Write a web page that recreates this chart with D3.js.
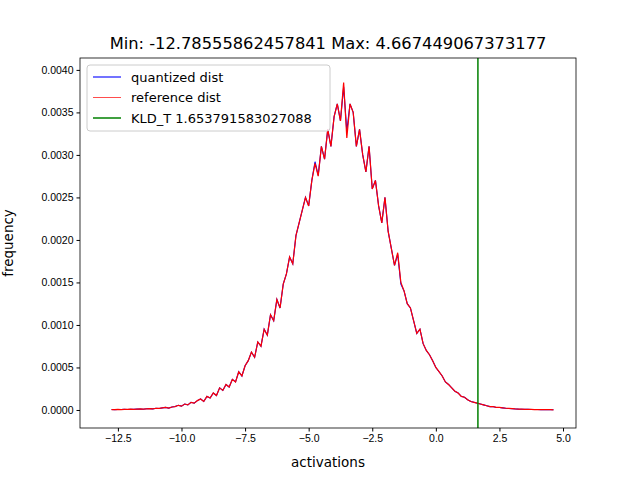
<!DOCTYPE html>
<html>
<head>
<meta charset="utf-8">
<script src="https://cdn.jsdelivr.net/npm/d3@7"></script>
<style>
  body { margin: 0; background: #fff; }
  svg { font-family: "DejaVu Sans", sans-serif; }
</style>
</head>
<body>
<svg id="chart" width="640" height="480"></svg>
<script>
// ── Data ────────────────────────────────────────────────────
const TITLE = "Min: -12.78555862457841 Max: 4.667449067373177";
const KLD_T = 1.653791583027088;

// reference histogram, bins from -12.75 in steps of 0.125
const binStart = -12.75, binStep = 0.125;
const refValues = [
  0.000005,0.000004,0.000006,0.000005, 0.000007,0.000006,0.000009,0.000008,
  0.00001,0.000012,0.000009,0.000014, 0.000016,0.000013,0.00002,0.000018,
  0.000025,0.00003,0.000022,0.000035, 0.00004,0.000055,0.000045,0.00007,
  0.00006,0.00009,0.00008,0.00011, 0.00013,0.0001,0.00016,0.00014,
  0.0002,0.00017,0.00026,0.00023, 0.0003,0.00027,0.00036,0.00033,
  0.00045,0.0004,0.00052,0.00058, 0.00068,0.00062,0.0008,0.00075,
  0.00095,0.00088,0.00112,0.00105, 0.0013,0.0012,0.00148,0.0016,
  0.0018,0.00172,0.00205,0.0022, 0.00235,0.0025,0.0024,0.0027,
  0.0029,0.00275,0.0031,0.00295, 0.0033,0.0031,0.00345,0.0036,
  0.0034,0.00385,0.0032,0.0036, 0.0035,0.0031,0.0033,0.003,
  0.0028,0.0031,0.0026,0.0027, 0.0024,0.0022,0.0025,0.0021,
  0.0019,0.0017,0.00185,0.0015, 0.0014,0.00125,0.0012,0.00105,
  0.0009,0.00095,0.00078,0.0007, 0.00065,0.00058,0.0005,0.00045,
  0.0004,0.00033,0.0003,0.00026, 0.00022,0.0002,0.00016,0.00015,
  0.00012,0.0001,0.00009,0.00008, 0.00007,0.00006,0.00005,0.00004,
  0.00004,0.00003,0.00003,0.000025, 0.00002,0.000018,0.000015,0.000012,
  0.00001,0.000009,0.000008,0.000007, 0.000006,0.000005,0.000005,0.000004,
  0.000004,0.000003,0.000003,0.000002
];

// quantized histogram, same bins (almost identical, peeks out in a few places)
const qValues = [
  0.000005,0.000004,0.000006,0.000005, 0.000007,0.000006,0.000009,0.000008,
  0.00001,0.000012,0.000009,0.000014, 0.000016,0.000013,0.00002,0.000018,
  0.000025,0.00003,0.000022,0.000035, 0.00004,0.000055,0.000045,0.00007,
  0.00006,0.00009,0.00008,0.00011, 0.00013,0.0001,0.00016,0.00014,
  0.0002,0.00017,0.00026,0.00023, 0.0003,0.00027,0.00036,0.00033,
  0.00045,0.0004,0.00052,0.00058, 0.00068,0.00062,0.0008,0.00075,
  0.00095,0.00088,0.00112,0.00105, 0.0013,0.0012,0.00148,0.0016,
  0.0018,0.00172,0.00205,0.0022, 0.00235,0.0025,0.0024,0.0027,
  0.00292,0.00276,0.0031,0.00295, 0.0033,0.0031,0.00345,0.0036,
  0.0034,0.0038,0.00328,0.0036, 0.0035,0.0031,0.0033,0.003,
  0.0028,0.0031,0.0026,0.0027, 0.0024,0.0022,0.0025,0.0021,
  0.0019,0.0017,0.00183,0.00148, 0.0014,0.00125,0.0012,0.00105,
  0.0009,0.00095,0.00078,0.0007, 0.00065,0.00058,0.0005,0.00045,
  0.0004,0.00033,0.0003,0.00026, 0.00022,0.0002,0.00016,0.00015,
  0.00012,0.0001,0.00009,0.00008, 0.00007,0.00006,0.00005,0.00004,
  0.00004,0.00003,0.00003,0.000025, 0.00002,0.000018,0.000015,0.000012,
  0.00001,0.000009,0.000008,0.000007, 0.000006,0.000005,0.000005,0.000004,
  0.000004,0.000003,0.000003,0.000002
];

const xTicks = [-12.5, -10, -7.5, -5, -2.5, 0, 2.5, 5];
const yTicks = [0, 0.0005, 0.001, 0.0015, 0.002, 0.0025, 0.003, 0.0035, 0.004];

// ── Layout ───────────────────────────────────────────────────
const M = { left: 80, top: 58, right: 576, bottom: 428 };
const svg = d3.select("#chart");

const x = d3.scaleLinear().domain([-13.99, 5.51]).range([M.left, M.right]);
const y = d3.scaleLinear().domain([-0.000212, 0.00414]).range([M.bottom, M.top]);

const minus = s => s.replace("-", "\u2212");

// axes
svg.append("g").attr("transform", `translate(0,${M.bottom})`)
  .call(d3.axisBottom(x).tickValues(xTicks).tickSize(3.5).tickPadding(3)
    .tickFormat(d => minus(d3.format(".1f")(d))))
  .call(g => g.select(".domain").remove());

svg.append("g").attr("transform", `translate(${M.left},0)`)
  .call(d3.axisLeft(y).tickValues(yTicks).tickSize(3.5).tickPadding(3)
    .tickFormat(d => d3.format(".4f")(d)))
  .call(g => g.select(".domain").remove());

svg.selectAll(".tick line").attr("stroke", "#000");
svg.selectAll(".tick text").attr("font-size", "10.5px").attr("fill", "#000");

// lines
const toPoints = vals => vals.map((v, i) => [binStart + i * binStep, v]);
const line = d3.line().x(d => x(d[0])).y(d => y(d[1]));

svg.append("path").datum(toPoints(qValues)).attr("d", line)
  .attr("fill", "none").attr("stroke", "#0000ff").attr("stroke-width", 1.1);
svg.append("path").datum(toPoints(refValues)).attr("d", line)
  .attr("fill", "none").attr("stroke", "#ff0000").attr("stroke-width", 1.2);

svg.append("line")
  .attr("x1", x(KLD_T)).attr("x2", x(KLD_T))
  .attr("y1", M.top).attr("y2", M.bottom)
  .attr("stroke", "#008000").attr("stroke-width", 1.5);

// frame
svg.append("rect").attr("x", M.left).attr("y", M.top)
  .attr("width", M.right - M.left).attr("height", M.bottom - M.top)
  .attr("fill", "none").attr("stroke", "#000").attr("stroke-width", 0.8);

// title and axis labels
svg.append("text").attr("x", (M.left + M.right) / 2).attr("y", 49)
  .attr("text-anchor", "middle").attr("font-size", "16.3px").text(TITLE);
svg.append("text").attr("x", (M.left + M.right) / 2).attr("y", 467)
  .attr("text-anchor", "middle").attr("font-size", "13.5px").text("activations");
svg.append("text").attr("transform", `translate(13,${(M.top + M.bottom) / 2}) rotate(-90)`)
  .attr("text-anchor", "middle").attr("font-size", "13.5px").text("frequency");

// legend
const legendItems = [
  { label: "quantized dist", color: "#0000ff", w: 1.1 },
  { label: "reference dist", color: "#ff0000", w: 0.7 },
  { label: "KLD_T " + KLD_T, color: "#008000", w: 1.5 }
];
const lg = svg.append("g").attr("transform", "translate(87,65)");
lg.append("rect").attr("width", 243).attr("height", 66).attr("rx", 3)
  .attr("fill", "#fff").attr("fill-opacity", 0.8).attr("stroke", "#ccc");
legendItems.forEach((d, i) => {
  const yy = 12 + i * 20.5;
  lg.append("line").attr("x1", 6).attr("x2", 34).attr("y1", yy).attr("y2", yy)
    .attr("stroke", d.color).attr("stroke-width", d.w);
  lg.append("text").attr("x", 44).attr("y", yy + 4.5)
    .attr("font-size", "13px").text(d.label);
});
</script>
</body>
</html>
